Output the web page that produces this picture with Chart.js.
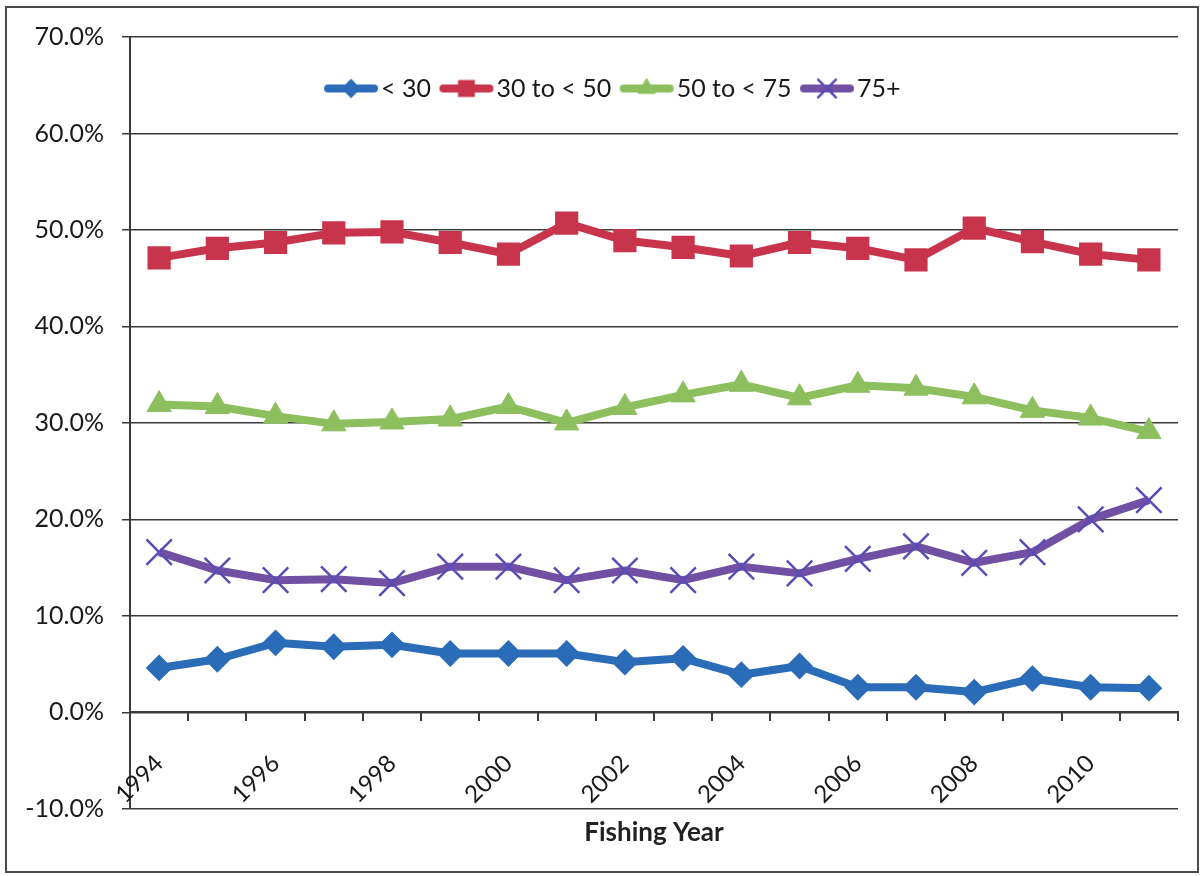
<!DOCTYPE html>
<html>
<head>
<meta charset="utf-8">
<title>Fishing Year</title>
<script src="https://cdn.jsdelivr.net/npm/chart.js@4.4.1/dist/chart.umd.min.js"></script>
<style>
  html, body { margin: 0; padding: 0; background: #fff; }
  #wrap { position: relative; width: 1202px; height: 876px; }
  #frame {
    position: absolute; left: 5px; top: 6px; width: 1190px; height: 863px;
    border: 2px solid #4a4a4a; pointer-events: none;
  }
</style>
</head>
<body>
<div id="wrap">
  <canvas id="ageChart" width="1202" height="876"></canvas>
  <div id="frame"></div>
</div>
<script>
const years = ['1994', '1995', '1996', '1997', '1998', '1999', '2000', '2001', '2002',
               '2003', '2004', '2005', '2006', '2007', '2008', '2009', '2010', '2011'];

// shares in percent
const under30    = [4.6, 5.5, 7.2, 6.8, 7.0, 6.1, 6.1, 6.1, 5.2, 5.6, 3.9, 4.8, 2.6, 2.6, 2.1, 3.5, 2.6, 2.5];
const from30to50 = [47.1, 48.1, 48.7, 49.7, 49.8, 48.7, 47.5, 50.7, 48.9, 48.2, 47.3, 48.7, 48.1, 46.9, 50.2, 48.8, 47.5, 46.9];
const from50to75 = [31.9, 31.7, 30.7, 29.9, 30.1, 30.4, 31.7, 30.0, 31.6, 32.9, 34.0, 32.6, 33.9, 33.6, 32.7, 31.3, 30.5, 29.1];
const over75     = [16.6, 14.7, 13.7, 13.8, 13.4, 15.1, 15.1, 13.7, 14.7, 13.7, 15.1, 14.4, 15.9, 17.2, 15.5, 16.6, 20.0, 22.0];

const yTicks = { min: -10, max: 70, step: 10 };

const FONT = 'Lato, "Open Sans", sans-serif';
const INK = '#1a1a1a';
const RULE = '#3a3a3a';

// line + marker sample for the legend
function legendSample(color, markColor, style, radius, markWidth) {
  const c = document.createElement('canvas');
  c.width = 56; c.height = 30;
  const g = c.getContext('2d');
  g.strokeStyle = color;
  g.lineWidth = 8;
  g.lineCap = 'round';
  g.beginPath();
  g.moveTo(5, 15);
  g.lineTo(51, 15);
  g.stroke();
  g.fillStyle = markColor;
  g.strokeStyle = markColor;
  g.lineWidth = markWidth;
  Chart.helpers.drawPoint(g, { pointStyle: style, radius: radius, rotation: 0, borderWidth: markWidth }, 28, 15);
  return c;
}

function series(label, data, color, markColor, style, radius, markWidth) {
  return {
    label: label,
    data: data,
    borderColor: color,
    backgroundColor: color,
    borderWidth: 8,
    borderJoinStyle: 'round',
    tension: 0,
    pointStyle: style,
    pointRadius: radius,
    pointBackgroundColor: markColor,
    pointBorderColor: markColor,
    pointBorderWidth: markWidth,
    sample: legendSample(color, markColor, style, radius * 0.7, markWidth)
  };
}

const datasets = [
  series('< 30', under30, '#2b6cb8', '#2b6cb8', 'rectRot', 12, 2),
  series('30 to < 50', from30to50, '#c8344c', '#c8344c', 'rect', 15, 2),
  series('50 to < 75', from50to75, '#8dbf5f', '#8dbf5f', 'triangle', 14, 1),
  series('75+', over75, '#7150a4', '#5a4cb4', 'crossRot', 18, 2.5)
];

// the legend sits inside the plot, below the top gridline
const legendTop = 58;
const legendInside = {
  id: 'legendInside',
  afterLayout(chart) {
    const lg = chart.legend;
    lg.top = legendTop;
    lg.bottom = legendTop + 64;
    lg.left += 28;
    lg.right += 28;
  }
};

const ctx = document.getElementById('ageChart').getContext('2d');
const ageChart = new Chart(ctx, {
  type: 'line',
  data: { labels: years, datasets: datasets },
  plugins: [legendInside],
  options: {
    responsive: false,
    animation: false,
    layout: { padding: { left: 0, right: 24, top: 36, bottom: 16 } },
    plugins: {
      tooltip: { enabled: false },
      legend: {
        position: 'top',
        maxHeight: 1,
        labels: {
          usePointStyle: true,
          pointStyleWidth: 35,
          padding: 18,
          color: INK,
          font: { family: FONT, size: 25 },
          generateLabels(chart) {
            return chart.data.datasets.map((ds, i) => ({
              text: ds.label,
              pointStyle: ds.sample,
              fillStyle: ds.borderColor,
              strokeStyle: ds.borderColor,
              lineWidth: 0,
              fontColor: INK,
              hidden: false,
              datasetIndex: i
            }));
          }
        }
      }
    },
    scales: {
      y: {
        min: yTicks.min,
        max: yTicks.max,
        ticks: {
          stepSize: yTicks.step,
          padding: 18,
          color: INK,
          font: { family: FONT, size: 25 },
          callback: v => v.toFixed(1) + '%'
        },
        grid: { color: RULE, lineWidth: 1.5, tickLength: 8 },
        border: { color: RULE, width: 2 },
        afterFit(scale) { scale.width = 130; }
      },
      x: {
        type: 'category',
        offset: true,
        position: { y: 0 },
        grid: { offset: true, drawOnChartArea: false, tickLength: 8, color: RULE, lineWidth: 2 },
        border: { color: RULE, width: 2 },
        ticks: {
          autoSkip: false,
          minRotation: 45,
          maxRotation: 45,
          padding: 29,
          color: INK,
          font: { family: FONT, size: 24 },
          callback(value, index) {
            return index % 2 === 0 ? this.getLabelForValue(value) : '';
          }
        },
        afterFit(scale) { scale.height = 0; }
      },
      x2: {
        type: 'category',
        position: 'bottom',
        grid: { display: false },
        border: { display: false },
        ticks: { display: false },
        title: {
          display: true,
          text: 'Fishing Year',
          color: '#222',
          font: { family: FONT, size: 26, weight: 'bold' },
          padding: { top: 0, bottom: 12 }
        }
      }
    }
  }
});
</script>
</body>
</html>
